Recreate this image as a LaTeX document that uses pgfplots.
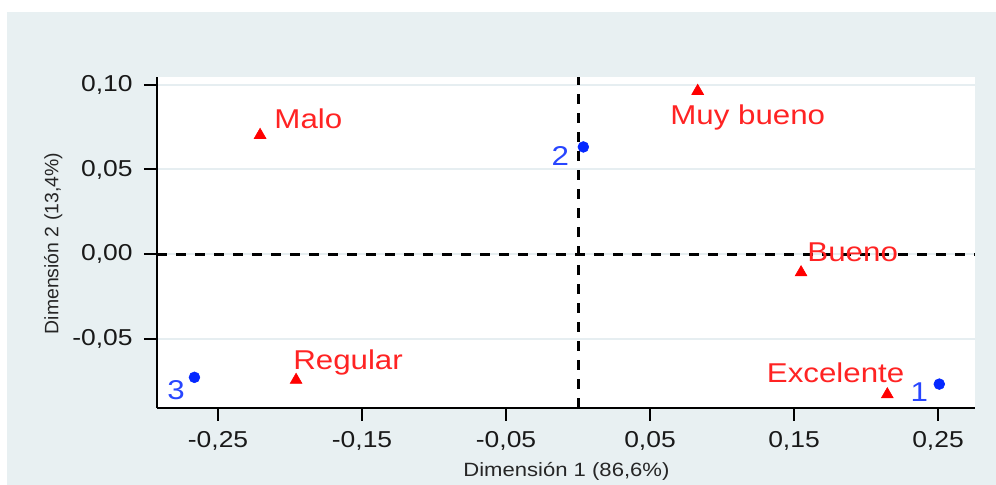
\documentclass[border=0pt]{standalone}
\usepackage{fontspec}
\setmainfont[FakeStretch=1.15]{Liberation Sans}
\newfontfamily\yfont{Liberation Sans}
\usepackage{pgfplots}
\pgfplotsset{compat=1.18}
\definecolor{bgc}{RGB}{232,240,242}
\definecolor{gridc}{RGB}{230,238,241}
\definecolor{mred}{RGB}{255,0,0}
\definecolor{tred}{RGB}{255,35,35}
\definecolor{mblue}{RGB}{5,40,255}
\definecolor{tblue}{RGB}{40,70,255}
\begin{document}
\begin{tikzpicture}[x=1pt,y=1pt]
\path[use as bounding box] (0,0) rectangle (498,242.5);
\fill[bgc] (3.5,0) rectangle (498,236.5);
\begin{axis}[
  at={(78.5pt,38.5pt)}, anchor=south west,
  scale only axis, width=409pt, height=165.5pt,
  xmin=-0.2924, xmax=0.2757, ymin=-0.0908, ymax=0.1046,
  axis background/.style={fill=white},
  axis lines*=left,
  axis line style={line width=1pt, black, -},
  clip=false,
  xtick={-0.25,-0.15,-0.05,0.05,0.15,0.25},
  xticklabels={{-0,25},{-0,15},{-0,05},{0,05},{0,15},{0,25}},
  ytick={-0.05,0,0.05,0.1},
  yticklabels={{-0,05},{0,00},{0,05},{0,10}},
  tick align=outside,
  major tick length=6.5pt,
  tick style={line width=1pt, black},
  ymajorgrids,
  grid style={gridc, line width=1pt},
  tick label style={font=\fontsize{11.5}{12}\selectfont, text=black!90},
  yticklabel style={inner sep=5.5pt},
  xticklabel style={inner sep=5pt},
]
\addplot[black, line width=1.5pt, dash pattern=on 5pt off 4.5pt] coordinates {(0,-0.0908) (0,0.1046)};
\addplot[black, line width=1.5pt, dash pattern=on 5pt off 4.5pt] coordinates {(-0.2924,0) (0.2757,0)};
% categories (red triangles)
\addplot[mred, only marks, mark=triangle*, mark size=3.4pt, mark options={solid, draw=mred, fill=mred, line width=0.3pt}] coordinates {
  (-0.2208,0.0703) (-0.1958,-0.0743) (0.1549,-0.0108) (0.0831,0.0963) (0.2148,-0.0828)};
% clusters (blue circles)
\addplot[mblue, only marks, mark=*, mark size=2.7pt, mark options={solid, draw=mblue, fill=mblue, line width=0.3pt}] coordinates {
  (0.2509,-0.0767) (0.0037,0.0633) (-0.2664,-0.0727)};
\begin{scope}[every node/.style={inner sep=0pt, font=\fontsize{13.6}{15}\selectfont}]
\node[anchor=base west, text=tred, xshift=7pt, yshift=2.5pt] at (axis cs:-0.2208,0.0713) {Malo};
\node[anchor=base west, text=tred, xshift=-13.85pt, yshift=-17.5pt] at (axis cs:0.0831,0.0973) {Muy bueno};
\node[anchor=base west, text=tred, xshift=3pt, yshift=4.5pt] at (axis cs:0.1549,-0.0098) {Bueno};
\node[anchor=base east, text=tred, xshift=8.7pt, yshift=5.3pt] at (axis cs:0.2148,-0.0818) {Excelente};
\node[anchor=base west, text=tred, xshift=-1.6pt, yshift=4.5pt] at (axis cs:-0.1958,-0.0733) {Regular};
\node[anchor=base east, text=tblue, xshift=-7pt, yshift=-9.5pt] at (axis cs:0.0037,0.0633) {2};
\node[anchor=base east, text=tblue, xshift=-5.5pt, yshift=-8.7pt] at (axis cs:0.2509,-0.0767) {1};
\node[anchor=base east, text=tblue, xshift=-4.6pt, yshift=-11.3pt] at (axis cs:-0.2664,-0.0727) {3};
\end{scope}
\end{axis}
\node[anchor=base, inner sep=0pt, text=black!85, font=\fontsize{9.6}{11}\selectfont] at (283.2,4.15) {Dimensión 1 (86,6\%)};
\node[anchor=base, rotate=90, inner sep=0pt, text=black!85, font=\yfont\fontsize{9.7}{11}\selectfont] at (29.15,120.75) {Dimensión 2 (13,4\%)};
\end{tikzpicture}
\end{document}
